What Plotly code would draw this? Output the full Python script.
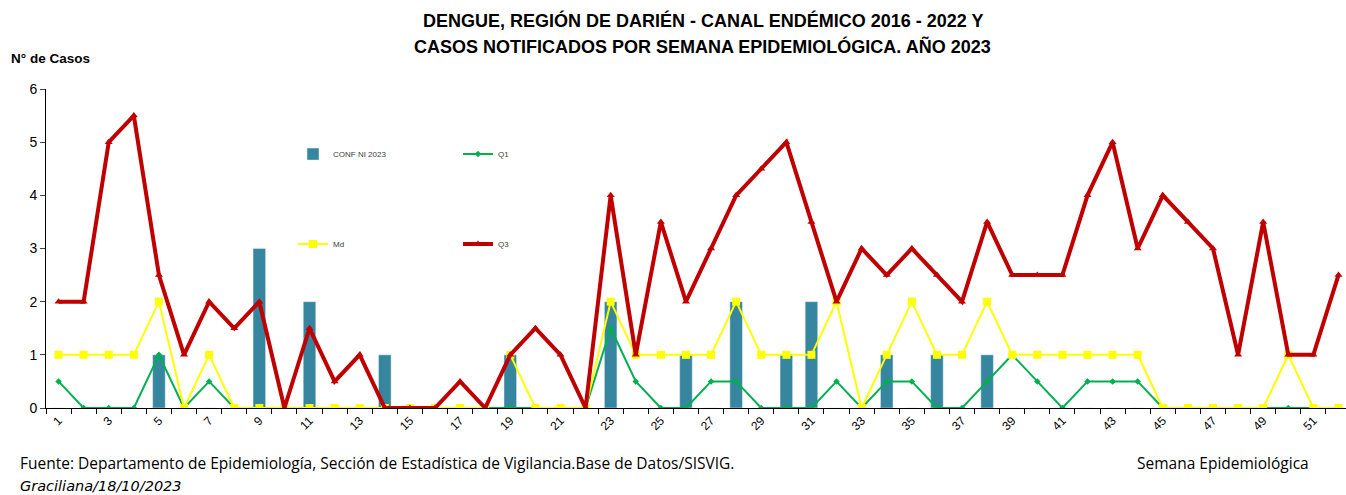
import plotly.graph_objects as go

weeks = list(range(1, 53))
conf_2023 = [0,0,0,0,1,0,0,0,3,0,2,0,0,1,0,0,0,0,1,0,0,0,2,0,0,1,0,2,0,1,2,0,0,1,0,1,0,1,0,0,0,0,0,0,0,0,0,0,0,0,0,0]
q1 = [0.5,0,0,0,1,0,0.5,0,0,0,0,0,0,0,0,0,0,0,0,0,0,0,1.5,0.5,0,0,0.5,0.5,0,0,0,0.5,0,0.5,0.5,0,0,0.5,1,0.5,0,0.5,0.5,0.5,0,0,0,0,0,0,0,0]
md = [1,1,1,1,2,0,1,0,0,0,0,0,0,0,0,0,0,0,1,0,0,0,2,1,1,1,1,2,1,1,1,2,0,1,2,1,1,2,1,1,1,1,1,1,0,0,0,0,0,1,0,0]
q3 = [2,2,5,5.5,2.5,1,2,1.5,2,0,1.5,0.5,1,0,0,0,0.5,0,1,1.5,1,0,4,1,3.5,2,3,4,4.5,5,3.5,2,3,2.5,3,2.5,2,3.5,2.5,2.5,2.5,4,5,3,4,3.5,3,1,3.5,1,1,2.5]
tick_labels = [str(w) for w in weeks if w % 2 == 1]
tick_vals = [w for w in weeks if w % 2 == 1]

fig = go.Figure()
fig.add_trace(go.Bar(x=weeks, y=conf_2023, name="CONF NI 2023", marker_color="#35869E",
                     width=0.5, legend="legend"))
fig.add_trace(go.Scatter(x=weeks, y=q1, name="Q1", mode="lines+markers",
                         line=dict(color="#00B050", width=2),
                         marker=dict(symbol="diamond", size=5, color="#00B050"), legend="legend"))
fig.add_trace(go.Scatter(x=weeks, y=md, name="Md", mode="lines+markers",
                         line=dict(color="#FFFF00", width=2),
                         marker=dict(symbol="square", size=8, color="#FFFF00"), legend="legend2"))
fig.add_trace(go.Scatter(x=weeks, y=q3, name="Q3", mode="lines+markers",
                         line=dict(color="#C00000", width=4),
                         marker=dict(symbol="triangle-up", size=7, color="#C00000"), legend="legend2"))

fig.update_layout(
    width=1346, height=495,
    margin=dict(l=46, r=0, t=89, b=87),
    paper_bgcolor="white", plot_bgcolor="white",
    font=dict(family="Liberation Sans, Arial", color="black"),
    showlegend=True,
    legend=dict(orientation="h", x=0.19, y=0.796, xanchor="left", yanchor="middle",
                entrywidth=120, entrywidthmode="pixels", font=dict(size=8, color="#404040"),
                bgcolor="rgba(0,0,0,0)", traceorder="normal"),
    legend2=dict(orientation="h", x=0.19, y=0.514, xanchor="left", yanchor="middle",
                 entrywidth=120, entrywidthmode="pixels", font=dict(size=8, color="#404040"),
                 bgcolor="rgba(0,0,0,0)", traceorder="normal"),
    bargap=0.5,
)
fig.update_xaxes(range=[0.5, 52.3], tickmode="array", tickvals=tick_vals, ticktext=tick_labels,
                 tickangle=-45, tickfont=dict(size=12), ticks="", showgrid=False,
                 showline=True, linecolor="black", linewidth=1, zeroline=False,
                 minor=dict(tickmode="linear", tick0=0.5, dtick=1, ticks="outside", ticklen=5,
                            tickcolor="black", showgrid=False))
fig.update_yaxes(range=[0, 6], dtick=1, tickfont=dict(size=14), ticks="outside", ticklen=5,
                 showgrid=False, showline=True, linecolor="black", linewidth=1, zeroline=False)

title_font = dict(size=18, family="Liberation Sans, Arial", color="black", weight="bold")
fig.add_annotation(text="DENGUE, REGIÓN DE DARIÉN - CANAL ENDÉMICO 2016 - 2022 Y",
                   xref="paper", yref="paper", x=0.505, y=1.216, xanchor="center", yanchor="middle",
                   showarrow=False, font=title_font)
fig.add_annotation(text="CASOS NOTIFICADOS POR SEMANA EPIDEMIOLÓGICA. AÑO 2023",
                   xref="paper", yref="paper", x=0.505, y=1.132, xanchor="center", yanchor="middle",
                   showarrow=False, font=title_font)
fig.add_annotation(text="<b>N° de Casos</b>", xref="paper", yref="paper", x=-0.0285, y=1.097,
                   xanchor="left", yanchor="middle", showarrow=False,
                   font=dict(size=13.5, family="Liberation Sans, Arial"))
foot_font = dict(size=15.5, family="Open Sans, Liberation Sans")
fig.add_annotation(text="Fuente: Departamento de Epidemiología, Sección de Estadística de Vigilancia.Base de Datos/SISVIG.",
                   xref="paper", yref="paper", x=-0.0215, y=-0.1724, xanchor="left", yanchor="middle",
                   showarrow=False, font=foot_font)
fig.add_annotation(text="<i>Graciliana/18/10/2023</i>",
                   xref="paper", yref="paper", x=-0.0215, y=-0.2445, xanchor="left", yanchor="middle",
                   showarrow=False, font=dict(size=14.5, family="DejaVu Sans"))
fig.add_annotation(text="Semana Epidemiológica",
                   xref="paper", yref="paper", x=0.8377, y=-0.1724, xanchor="left", yanchor="middle",
                   showarrow=False, font=foot_font)

fig.write_html("out.html", config={"displayModeBar": False},
               post_script="document.body.style.margin='0';")
